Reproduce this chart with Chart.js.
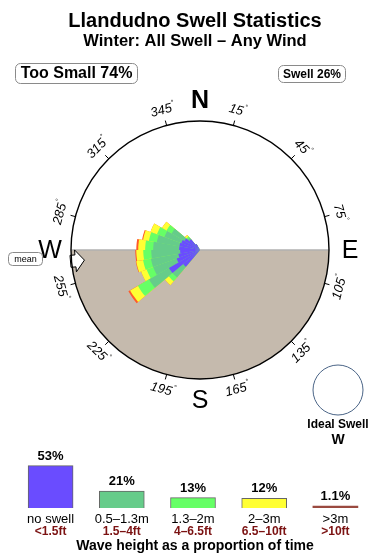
<!DOCTYPE html>
<html>
<head>
<meta charset="utf-8">
<script src="https://cdn.jsdelivr.net/npm/chart.js@4.4.1/dist/chart.umd.min.js"></script>
<style>
  html, body { margin: 0; padding: 0; background: #fff; }
  #wrap { position: relative; width: 390px; height: 560px; }
  #rose { position: absolute; left: 0; top: 0; }
  #bands { position: absolute; left: 0; top: 440px; }
</style>
</head>
<body>
<div id="wrap">
  <canvas id="rose" width="390" height="560"></canvas>
  <canvas id="bands" width="390" height="120"></canvas>
</div>
<script>
// direction bins (bin centre, 10 deg wide)
const dirBins = [225, 235, 245, 255, 265, 275, 285, 295, 305, 315, 325];
// radial thickness of each height band per bin (circle edge = 100)
const noSwell = [17.0, 27.8, 19.3, 17.0, 15.4, 16.2, 16.2, 15.4, 13.9, 10.8, 5.4];
const swellSm = [10.8, 17.8, 19.3, 21.6, 22.4, 20.1, 17.8, 13.9, 11.6, 1.5, 0];
const swellMd = [3.9, 10.0, 5.4, 6.2, 6.2, 6.2, 6.2, 6.2, 4.6, 1.5, 0];
const swellLg = [3.9, 7.0, 4.6, 5.4, 5.4, 5.4, 4.6, 5.4, 3.9, 1.5, 0];
const swellXl = [0, 1.5, 0, 0.4, 0.8, 1.5, 0.8, 0, 0, 0, 0];

const compassTicks = [15, 45, 75, 105, 135, 165, 195, 225, 255, 285, 315, 345];
const cardinals = [['N', 0], ['E', 90], ['S', 180], ['W', 270]];
const meanDir = 265;
const idealDir = 'W';

// legend values
const bandNames = ['no swell', '0.5\u20131.3m', '1.3\u20132m', '2\u20133m', '>3m'];
const bandFeet = ['<1.5ft', '1.5\u20134ft', '4\u20136.5ft', '6.5\u201310ft', '>10ft'];
const bandShare = [53, 21, 13, 12, 1.1];
const tooSmallPct = 74;
const swellPct = 26;

const bandColors = ['#6a4cff', '#66cc8a', '#66ff66', '#ffff33', '#ff5a2a'];
const FONT = '"Liberation Sans", Arial, sans-serif';

// build 36 slots of 10 deg, cumulative per band
const slots = [];
for (let b = 5; b < 360; b += 10) slots.push(b);
const layers = [noSwell, swellSm, swellMd, swellLg, swellXl];
const cumul = layers.map(() => slots.map(() => 0));
dirBins.forEach((d, j) => {
  const s = slots.indexOf(d);
  let run = 0;
  layers.forEach((arr, k) => {
    run += arr[j];
    cumul[k][s] = +run.toFixed(2);
  });
});

function toXY(cx, cy, r, bearing) {
  const a = (bearing - 90) * Math.PI / 180;
  return [cx + r * Math.cos(a), cy + r * Math.sin(a)];
}

const compassPlugin = {
  id: 'compass',
  beforeDatasetsDraw(chart) {
    const s = chart.scales.r;
    const ctx = chart.ctx;
    const cx = s.xCenter, cy = s.yCenter, R = s.drawingArea;
    ctx.save();
    ctx.fillStyle = '#c5baad';
    ctx.beginPath();
    ctx.arc(cx, cy, R, 0, Math.PI);
    ctx.closePath();
    ctx.fill();
    ctx.strokeStyle = '#b0b0b0';
    ctx.lineWidth = 1.5;
    ctx.beginPath();
    ctx.moveTo(cx - R, cy);
    ctx.lineTo(cx + R, cy);
    ctx.stroke();
    ctx.restore();
  },
  afterDatasetsDraw(chart) {
    const s = chart.scales.r;
    const ctx = chart.ctx;
    const cx = s.xCenter, cy = s.yCenter, R = s.drawingArea;
    ctx.save();

    // mean direction arrow
    const a = (meanDir - 90) * Math.PI / 180;
    const dx = Math.cos(a), dy = Math.sin(a);
    const px = -dy, py = dx;
    const pts = [[0, -6], [5, -6], [5, -11], [14, 0], [5, 11], [5, 6], [0, 6]];
    ctx.beginPath();
    pts.forEach(([u, v], i) => {
      const r = R + 1 - u;
      const x = cx + r * dx + v * px, y = cy + r * dy + v * py;
      if (i === 0) ctx.moveTo(x, y); else ctx.lineTo(x, y);
    });
    ctx.closePath();
    ctx.fillStyle = '#fff';
    ctx.fill();
    ctx.strokeStyle = '#000';
    ctx.lineWidth = 1;
    ctx.stroke();

    // outer circle
    ctx.strokeStyle = '#000';
    ctx.lineWidth = 1.4;
    ctx.beginPath();
    ctx.arc(cx, cy, R, 0, Math.PI * 2);
    ctx.stroke();

    // ticks + degree labels
    ctx.lineWidth = 1;
    compassTicks.forEach(b => {
      const [x1, y1] = toXY(cx, cy, R, b);
      const [x2, y2] = toXY(cx, cy, R + 5, b);
      ctx.beginPath();
      ctx.moveTo(x1, y1);
      ctx.lineTo(x2, y2);
      ctx.stroke();

      const [lx, ly] = toXY(cx, cy, R + 15.5, b);
      let rot = (b > 90 && b < 270) ? b - 180 : (b > 180 ? b - 360 : b);
      ctx.save();
      ctx.translate(lx, ly);
      ctx.rotate(rot * Math.PI / 180);
      ctx.fillStyle = '#000';
      ctx.font = 'italic 13px ' + FONT;
      const txt = String(b);
      const w = ctx.measureText(txt).width;
      ctx.font = 'italic 7px ' + FONT;
      const wd = ctx.measureText('\u00b0').width;
      const x0 = -(w + wd) / 2;
      ctx.textBaseline = 'middle';
      ctx.textAlign = 'left';
      ctx.font = 'italic 13px ' + FONT;
      ctx.fillText(txt, x0, 0);
      ctx.font = 'italic 7px ' + FONT;
      ctx.fillText('\u00b0', x0 + w + 0.5, -5);
      ctx.restore();
    });

    // cardinal letters
    ctx.fillStyle = '#000';
    ctx.textAlign = 'center';
    ctx.textBaseline = 'middle';
    cardinals.forEach(([t, b]) => {
      const [x, y] = toXY(cx, cy, R + 21, b);
      ctx.font = (t === 'N' ? 'bold ' : '') + '25px ' + FONT;
      ctx.fillText(t, x, y + 1);
    });
    ctx.restore();
  },
  afterDraw(chart) {
    const ctx = chart.ctx;
    ctx.save();
    ctx.fillStyle = '#000';
    ctx.textAlign = 'center';
    ctx.textBaseline = 'middle';
    ctx.font = 'bold 20px ' + FONT;
    ctx.fillText('Llandudno Swell Statistics', 195, 21);
    ctx.font = 'bold 16.5px ' + FONT;
    ctx.fillText('Winter: All Swell \u2013 Any Wind', 195, 41);

    // status boxes
    ctx.strokeStyle = '#8a8a8a';
    ctx.lineWidth = 1;
    ctx.beginPath();
    ctx.roundRect(15.5, 63.5, 122, 20, 5);
    ctx.stroke();
    ctx.font = 'bold 16px ' + FONT;
    ctx.fillText('Too Small ' + tooSmallPct + '%', 76.5, 74);

    ctx.beginPath();
    ctx.roundRect(278.5, 65.5, 67, 17, 5);
    ctx.stroke();
    ctx.font = 'bold 12px ' + FONT;
    ctx.fillText('Swell ' + swellPct + '%', 312, 74.5);

    // mean tag
    ctx.beginPath();
    ctx.roundRect(8.5, 252.5, 34, 13, 4);
    ctx.stroke();
    ctx.font = '9px ' + FONT;
    ctx.fillText('mean', 25.5, 259.5);

    // ideal swell marker
    ctx.strokeStyle = '#4a6486';
    ctx.beginPath();
    ctx.arc(338, 390, 25, 0, Math.PI * 2);
    ctx.stroke();
    ctx.font = 'bold 12px ' + FONT;
    ctx.fillText('Ideal Swell', 338, 425);
    ctx.font = 'bold 14px ' + FONT;
    ctx.fillText(idealDir, 338, 440);
    ctx.restore();
  }
};

new Chart(document.getElementById('rose'), {
  type: 'polarArea',
  data: {
    labels: slots,
    datasets: cumul.map((d, k) => ({
      data: d,
      backgroundColor: bandColors[k],
      borderWidth: 0
    }))
  },
  options: {
    responsive: false,
    animation: false,
    layout: { padding: { left: 71, right: 60, top: 121, bottom: 180 } },
    plugins: { legend: { display: false }, tooltip: { enabled: false } },
    scales: {
      r: {
        min: 0,
        max: 100,
        startAngle: 0,
        ticks: { display: false },
        grid: { display: false },
        angleLines: { display: false },
        pointLabels: { display: false }
      }
    }
  },
  plugins: [compassPlugin]
});

// ----------- legend strip -----------
const bandLabels = {
  id: 'bandLabels',
  afterDatasetsDraw(chart) {
    const ctx = chart.ctx;
    const meta = chart.getDatasetMeta(0);
    ctx.save();
    ctx.textAlign = 'center';
    meta.data.forEach((bar, i) => {
      ctx.fillStyle = '#000';
      ctx.textBaseline = 'bottom';
      ctx.font = 'bold 13px ' + FONT;
      ctx.fillText(bandShare[i] + '%', bar.x, bar.y - 3);
      ctx.textBaseline = 'middle';
      ctx.font = '13px ' + FONT;
      ctx.fillText(bandNames[i], bar.x, 79);
      ctx.fillStyle = '#7b1212';
      ctx.font = 'bold 12px ' + FONT;
      ctx.fillText(bandFeet[i], bar.x, 92);
    });
    ctx.fillStyle = '#000';
    ctx.font = 'bold 14px ' + FONT;
    ctx.fillText('Wave height as a proportion of time', 195, 106);
    ctx.restore();
  }
};

new Chart(document.getElementById('bands'), {
  type: 'bar',
  data: {
    labels: bandNames,
    datasets: [{
      data: bandShare,
      backgroundColor: ['#6a4cff', '#66cc8a', '#66ff66', '#ffff33', '#9a4a40'],
      borderColor: '#666',
      borderWidth: [1, 1, 1, 1, 0],
      barThickness: 45,
      minBarLength: 2
    }]
  },
  options: {
    responsive: false,
    animation: false,
    layout: { padding: { left: 15, right: 19, top: 20, bottom: 52 } },
    plugins: { legend: { display: false }, tooltip: { enabled: false } },
    scales: {
      x: { display: false },
      y: { display: false, min: 0, max: 60 }
    }
  },
  plugins: [bandLabels]
});
</script>
</body>
</html>
